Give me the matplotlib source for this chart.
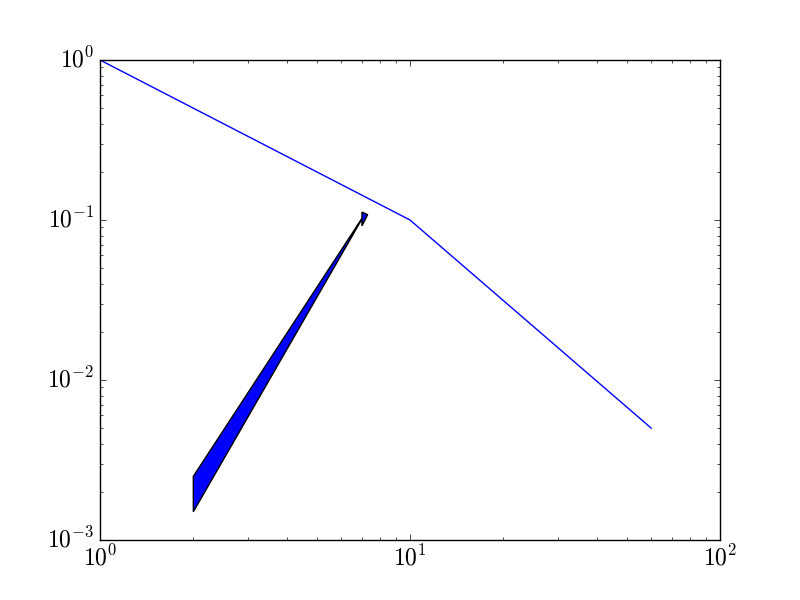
import matplotlib
matplotlib.use('Agg')
import matplotlib.pyplot as plt

# line data
x_line = [1, 10, 60]
y_line = [1, 0.1, 0.005]
# arrow: start point, delta, shaft width (data units)
arrow_start = (2, 0.002)
arrow_delta = (5, 0.1)
arrow_width = 0.001

plt.style.use('classic')
plt.rcParams['mathtext.fontset'] = 'cm'
plt.rcParams['font.family'] = ['cmr10', 'DejaVu Sans']
plt.rcParams['axes.formatter.use_mathtext'] = True
plt.rcParams['xtick.labelsize'] = 17
plt.rcParams['ytick.labelsize'] = 17

fig = plt.figure(figsize=(8, 6), dpi=100)
ax = fig.add_subplot(111)
ax.plot(x_line, y_line, color='b')
ax.arrow(arrow_start[0], arrow_start[1], arrow_delta[0], arrow_delta[1],
         width=arrow_width, head_width=0.02, head_length=0.3,
         facecolor='b', edgecolor='k')
ax.set_xscale('log')
ax.set_yscale('log')
ax.set_xlim(1, 100)
ax.set_ylim(1e-3, 1)
fig.savefig('out.png', dpi=100)
